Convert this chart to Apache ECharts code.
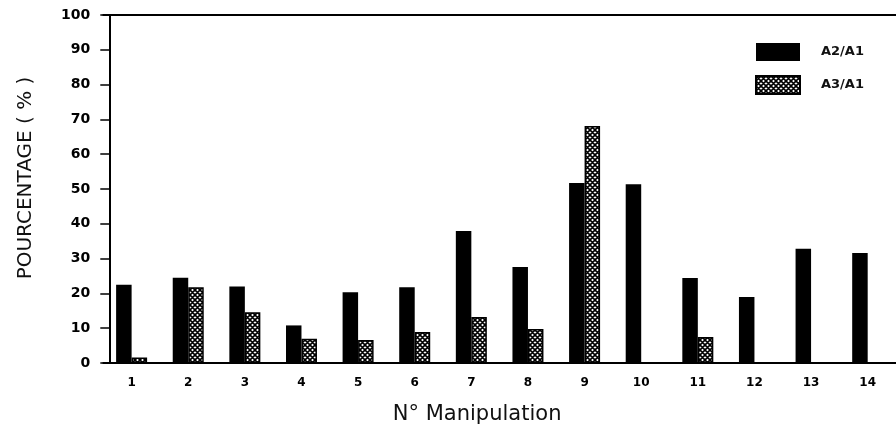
<!DOCTYPE html>
<html>
<head>
<meta charset="utf-8">
<script src="https://cdn.jsdelivr.net/npm/echarts@6/dist/echarts.min.js"></script>
<style>
html,body{margin:0;padding:0;background:#fff;}
#c{width:896px;height:435px;}
</style>
</head>
<body>
<div id="c"></div>
<script>
const categories = ['1','2','3','4','5','6','7','8','9','10','11','12','13','14'];
const a2a1 = [22.5, 24.5, 22, 10.8, 20.3, 21.8, 37.9, 27.6, 51.7, 51.4, 24.4, 19.0, 32.8, 31.6];
const a3a1 = [1.6, 21.8, 14.6, 7, 6.6, 8.9, 13.2, 9.8, 68.1, null, 7.5, null, null, null];
const yTicks = [0, 100, 10];

function hatch() {
  const c = document.createElement('canvas');
  c.width = 5; c.height = 5;
  const g = c.getContext('2d');
  g.fillStyle = '#fff'; g.fillRect(0, 0, 5, 5);
  g.strokeStyle = '#000'; g.lineWidth = 1.6;
  g.beginPath();
  g.moveTo(0, 0); g.lineTo(5, 5);
  g.moveTo(5, 0); g.lineTo(0, 5);
  g.moveTo(-2.5, 2.5); g.lineTo(2.5, 7.5);
  g.moveTo(2.5, -2.5); g.lineTo(7.5, 2.5);
  g.moveTo(2.5, -2.5); g.lineTo(-2.5, 2.5);
  g.moveTo(7.5, 2.5); g.lineTo(2.5, 7.5);
  g.stroke();
  return c;
}

const chart = echarts.init(document.getElementById('c'));
const font = 'DejaVu Sans';
chart.setOption({
  animation: false,
  backgroundColor: '#fff',
  grid: { left: 103.3, right: -11.7, top: 15, bottom: 72 },
  legend: {
    orient: 'vertical', left: 755, top: 43, padding: 0,
    itemWidth: 44, itemHeight: 18, itemGap: 14,
    icon: 'rect',
    textStyle: { fontFamily: font, fontSize: 13, fontWeight: 'bold', color: '#111', padding: [0, 0, 0, 16] },
    data: ['A2/A1', 'A3/A1']
  },
  xAxis: [{
    type: 'category', data: categories, position: 'bottom',
    axisLine: { lineStyle: { color: '#000', width: 2 } },
    axisTick: { alignWithLabel: true, length: 6, lineStyle: { color: '#000', width: 1.5 } },
    axisLabel: { interval: 0, margin: 14, fontFamily: font, fontSize: 12, fontWeight: 'bold', color: '#000' },
    name: 'N° Manipulation', nameLocation: 'middle', nameGap: 41,
    nameTextStyle: { fontFamily: font, fontSize: 21, color: '#111', padding: [0, 45, 0, 0] }
  }, {
    type: 'category', data: categories, position: 'top',
    axisLine: { lineStyle: { color: '#000', width: 2 } },
    axisTick: { show: false }, axisLabel: { show: false }
  }],
  yAxis: {
    type: 'value', min: yTicks[0], max: yTicks[1], interval: yTicks[2], offset: -6,
    axisLine: { show: true, lineStyle: { color: '#000', width: 2 } },
    axisTick: { show: true, length: 9, lineStyle: { color: '#000', width: 1.5 } },
    splitLine: { show: false },
    axisLabel: { margin: 19, fontFamily: font, fontSize: 14, fontWeight: 'bold', color: '#000' },
    name: 'POURCENTAGE ( % )', nameLocation: 'middle', nameGap: 74,
    nameTextStyle: { fontFamily: font, fontSize: 20, color: '#111', padding: [0, 0, 0, 22] }
  },
  series: [{
    name: 'A2/A1', type: 'bar', data: a2a1, barWidth: 15.5, barGap: '0%',
    itemStyle: { color: '#000' }
  }, {
    name: 'A3/A1', type: 'bar', data: a3a1, barWidth: 15.5, barGap: '0%',
    itemStyle: { color: { image: hatch(), repeat: 'repeat' }, borderColor: '#000', borderWidth: 1.5 }
  }]
});
</script>
</body>
</html>
